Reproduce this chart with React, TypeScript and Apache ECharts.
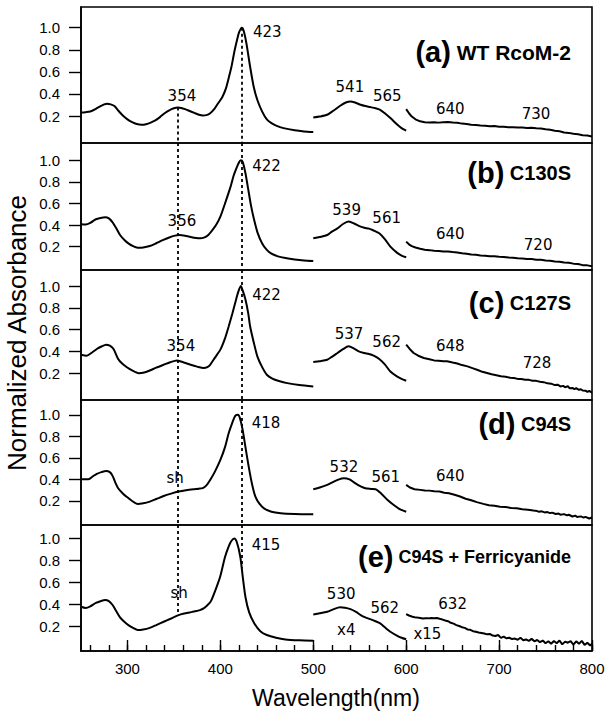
import { useEffect, useRef } from "react";
import * as echarts from "echarts";

// ---------- axis values ----------
const X_MIN = 250;
const X_MAX = 800;
const yTickValues = [0.2, 0.4, 0.6, 0.8, 1.0];
const xMajorTicks = [300, 400, 500, 600, 700, 800];
const xMinorTicks = [260, 280, 300, 320, 340, 360, 380, 400, 420, 440, 460, 480, 500, 520, 540, 560, 580, 600, 620, 640, 660, 680, 700, 720, 740, 760, 780, 800];
const refWavelengths = [354, 423];

// ---------- panel texts ----------
const panelTags = ["(a)", "(b)", "(c)", "(d)", "(e)"];
const panelNames = ["WT RcoM-2", "C130S", "C127S", "C94S", "C94S + Ferricyanide"];

// ---------- spectra: [wavelength nm, normalized absorbance] ----------
const aSoret = [[250,0.232],[255,0.235],[260,0.241],[265,0.26],[270,0.285],[275,0.305],[278,0.311],[282,0.305],[286,0.29],[290,0.25],[295,0.205],[300,0.17],[305,0.145],[310,0.128],[315,0.121],[320,0.126],[325,0.14],[330,0.16],[335,0.19],[340,0.225],[345,0.252],[350,0.27],[354,0.277],[358,0.273],[362,0.262],[367,0.245],[372,0.228],[377,0.212],[381,0.205],[385,0.208],[389,0.225],[394,0.27],[398,0.32],[402,0.37],[406,0.45],[410,0.58],[412,0.648],[415,0.78],[418,0.89],[420,0.955],[423,1.0],[425,0.975],[428,0.86],[432,0.648],[436,0.46],[440,0.34],[445,0.24],[450,0.17],[455,0.135],[460,0.113],[468,0.09],[480,0.07],[490,0.06],[500,0.055]];
const aQ = [[500,0.187],[507,0.195],[515,0.211],[522,0.25],[529,0.293],[535,0.322],[540,0.332],[545,0.322],[551,0.302],[556,0.29],[561,0.281],[567,0.27],[572,0.256],[577,0.225],[583,0.181],[590,0.125],[595,0.09],[600,0.067]];
const aNIR = [[600,0.262],[603,0.225],[606,0.195],[610,0.17],[615,0.152],[620,0.143],[625,0.141],[630,0.143],[635,0.140],[640,0.144],[645,0.145],[650,0.141],[655,0.139],[660,0.131],[665,0.128],[670,0.121],[675,0.119],[680,0.113],[685,0.112],[690,0.108],[695,0.109],[700,0.103],[705,0.102],[710,0.099],[715,0.099],[720,0.095],[725,0.095],[730,0.092],[735,0.093],[740,0.089],[745,0.087],[750,0.080],[755,0.076],[760,0.067],[765,0.062],[770,0.051],[775,0.047],[780,0.039],[785,0.034],[790,0.026],[795,0.023],[800,0.015]];

const bSoret = [[250,0.407],[255,0.405],[260,0.42],[266,0.454],[271,0.466],[276,0.472],[280,0.462],[284,0.425],[288,0.37],[292,0.308],[297,0.26],[301,0.231],[306,0.205],[311,0.191],[317,0.193],[324,0.206],[331,0.232],[338,0.26],[345,0.285],[350,0.3],[356,0.308],[362,0.302],[368,0.29],[374,0.28],[378,0.277],[383,0.286],[387,0.308],[392,0.36],[396,0.41],[400,0.478],[405,0.6],[411,0.756],[414,0.85],[417,0.92],[420,0.98],[422,1.0],[424,0.985],[427,0.88],[430,0.73],[433,0.58],[436,0.46],[440,0.33],[445,0.23],[450,0.17],[455,0.135],[462,0.11],[470,0.095],[480,0.082],[490,0.073],[500,0.068]];
const bQ = [[500,0.278],[507,0.29],[515,0.308],[520,0.34],[526,0.37],[532,0.41],[538,0.432],[544,0.415],[549,0.392],[555,0.375],[560,0.367],[565,0.35],[571,0.324],[577,0.27],[583,0.2],[590,0.145],[595,0.118],[600,0.102]];
const bNIR = [[600,0.247],[603,0.222],[606,0.205],[610,0.192],[615,0.18],[620,0.172],[625,0.168],[630,0.162],[635,0.161],[640,0.156],[645,0.156],[650,0.150],[655,0.146],[660,0.139],[665,0.135],[670,0.127],[675,0.125],[680,0.119],[685,0.117],[690,0.112],[695,0.111],[700,0.106],[705,0.105],[710,0.099],[715,0.098],[720,0.092],[725,0.091],[730,0.086],[735,0.085],[740,0.080],[745,0.078],[750,0.071],[755,0.070],[760,0.062],[765,0.061],[770,0.053],[775,0.052],[780,0.043],[785,0.040],[790,0.029],[795,0.027],[800,0.018]];

const cSoret = [[250,0.369],[256,0.36],[262,0.39],[267,0.422],[272,0.445],[277,0.462],[281,0.452],[285,0.422],[290,0.33],[294,0.29],[299,0.256],[305,0.225],[312,0.2],[318,0.205],[324,0.224],[331,0.25],[339,0.277],[346,0.3],[353,0.317],[360,0.3],[368,0.277],[375,0.26],[382,0.247],[386,0.255],[389,0.277],[394,0.34],[400,0.416],[405,0.52],[409,0.631],[413,0.75],[416,0.847],[419,0.94],[422,1.0],[424,0.96],[427,0.877],[430,0.75],[432,0.631],[436,0.48],[440,0.35],[445,0.255],[450,0.185],[456,0.15],[463,0.128],[472,0.108],[485,0.09],[500,0.077]];
const cQ = [[500,0.302],[507,0.31],[515,0.323],[520,0.35],[526,0.385],[532,0.42],[538,0.446],[544,0.425],[549,0.4],[555,0.385],[560,0.376],[565,0.36],[571,0.33],[577,0.28],[583,0.215],[590,0.17],[595,0.148],[600,0.13]];
const cNIR = [[600,0.462],[604,0.42],[608,0.385],[613,0.36],[619,0.339],[625,0.328],[630,0.317],[635,0.314],[640,0.309],[644,0.309],[650,0.297],[655,0.289],[660,0.274],[666,0.262],[672,0.244],[677,0.229],[682,0.212],[687,0.201],[692,0.189],[697,0.181],[702,0.171],[707,0.166],[712,0.157],[716,0.155],[720,0.147],[724,0.146],[728,0.139],[732,0.138],[736,0.130],[740,0.129],[744,0.121],[748,0.117],[752,0.106],[756,0.103],[760,0.090],[763,0.094],[766,0.078],[769,0.083],[771,0.070],[774,0.079],[776,0.060],[779,0.064],[781,0.052],[783,0.061],[786,0.047],[788,0.052],[790,0.040],[793,0.039],[795,0.028],[797,0.036],[800,0.020]];

const dSoret = [[250,0.402],[258,0.402],[263,0.43],[267,0.451],[272,0.468],[277,0.479],[281,0.468],[284,0.433],[287,0.37],[290,0.318],[295,0.27],[299,0.24],[305,0.2],[311,0.172],[317,0.178],[324,0.194],[331,0.218],[339,0.246],[347,0.268],[355,0.287],[363,0.3],[371,0.309],[377,0.314],[381,0.32],[385,0.345],[389,0.395],[394,0.47],[400,0.581],[405,0.7],[409,0.83],[413,0.93],[416,0.99],[419,1.0],[421,0.97],[424,0.86],[427,0.7],[430.5,0.519],[434,0.36],[437.7,0.24],[442,0.175],[447,0.132],[455,0.1],[465,0.086],[480,0.079],[500,0.076]];
const dQ = [[500,0.309],[507,0.325],[515,0.349],[520,0.37],[527,0.398],[533,0.411],[539,0.4],[545,0.365],[551,0.335],[556,0.318],[562,0.312],[567,0.309],[573,0.27],[580,0.209],[587,0.16],[593,0.125],[600,0.1]];
const dNIR = [[600,0.349],[604,0.325],[609,0.309],[615,0.303],[620,0.297],[625,0.296],[630,0.290],[636,0.288],[641,0.277],[646,0.271],[652,0.257],[658,0.241],[664,0.221],[670,0.206],[676,0.189],[683,0.173],[689,0.161],[695,0.156],[701,0.147],[707,0.143],[713,0.135],[719,0.133],[725,0.124],[731,0.119],[737,0.111],[741,0.106],[743,0.099],[746,0.104],[749,0.094],[752,0.097],[755,0.087],[757,0.092],[761,0.079],[764,0.083],[766,0.073],[770,0.078],[773,0.066],[775,0.072],[779,0.056],[782,0.064],[784,0.051],[788,0.057],[791,0.046],[793,0.052],[797,0.037],[800,0.046]];

const eSoret = [[250,0.381],[255,0.37],[260,0.385],[266,0.417],[271,0.432],[276,0.442],[280,0.432],[284,0.397],[288,0.34],[292,0.285],[296,0.25],[301,0.215],[306,0.19],[311,0.17],[317,0.175],[324,0.19],[331,0.215],[339,0.245],[347,0.275],[355,0.306],[361,0.32],[367,0.33],[373,0.34],[378,0.351],[382,0.367],[386,0.395],[390,0.435],[396,0.562],[400,0.66],[405,0.833],[409,0.93],[412,0.98],[415,1.0],[418,0.96],[421.5,0.833],[424,0.66],[427,0.47],[431,0.33],[436.6,0.23],[443,0.16],[450,0.125],[460,0.1],[470,0.085],[485,0.077],[500,0.073]];
const eQ = [[500,0.312],[507,0.322],[515,0.336],[522,0.36],[529,0.376],[534,0.373],[540,0.36],[546,0.335],[551,0.306],[556,0.285],[562,0.267],[567,0.25],[572,0.23],[577,0.195],[583,0.155],[590,0.12],[595,0.1],[600,0.086]];
const eNIR = [[600,0.315],[603,0.302],[606,0.293],[609,0.287],[612,0.283],[615,0.28],[618,0.275],[621,0.278],[624,0.276],[627,0.279],[630,0.277],[633,0.28],[636,0.272],[639,0.265],[642,0.257],[645,0.25],[648,0.236],[651,0.228],[654,0.215],[657,0.207],[660,0.196],[663,0.19],[666,0.176],[669,0.172],[672,0.16],[675,0.155],[678,0.148],[681,0.144],[684,0.138],[687,0.131],[690,0.135],[693,0.12],[696,0.116],[699,0.125],[702,0.099],[705,0.11],[708,0.095],[711,0.1],[714,0.088],[717,0.093],[720,0.082],[723,0.1],[726,0.078],[729,0.085],[732,0.072],[735,0.09],[738,0.068],[741,0.08],[744,0.06],[747,0.075],[750,0.05],[753,0.068],[756,0.045],[759,0.07],[762,0.05],[765,0.075],[768,0.04],[771,0.065],[774,0.055],[777,0.07],[780,0.038],[783,0.068],[786,0.045],[789,0.072],[792,0.035],[795,0.055],[798,0.03],[800,0.045]];

// ---------- peak annotations: [text, wavelength, absorbance] ----------
const annotA = [["423", 450.5, 0.964], ["354", 358.6, 0.383], ["541", 539.4, 0.46], ["565", 579.7, 0.377], ["640", 647.4, 0.266], ["730", 739.8, 0.22]];
const annotB = [["422", 449.6, 0.947], ["356", 358.6, 0.438], ["539", 535.9, 0.54], ["561", 579, 0.463], ["640", 647.4, 0.318], ["720", 742, 0.216]];
const annotC = [["422", 449.6, 0.914], ["354", 357.5, 0.452], ["537", 538.4, 0.56], ["562", 579, 0.487], ["648", 647.4, 0.446], ["728", 740.8, 0.293]];
const annotD = [["418", 449.2, 0.928], ["sh", 351.4, 0.411], ["532", 533, 0.519], ["561", 578, 0.42], ["640", 647.4, 0.433]];
const annotE = [["415", 449.2, 0.94], ["sh", 355.7, 0.502], ["530", 530, 0.496], ["562", 577, 0.367], ["x4", 535.5, 0.17], ["632", 650, 0.405], ["x15", 622.8, 0.134]];

const spectra = [
  [aSoret, aQ, aNIR],
  [bSoret, bQ, bNIR],
  [cSoret, cQ, cNIR],
  [dSoret, dQ, dNIR],
  [eSoret, eQ, eNIR],
];
const annotations = [annotA, annotB, annotC, annotD, annotE];

// ---------- layout (pixels) ----------
const PLOT_LEFT = 81;
const PLOT_WIDTH = 511;
const panelLayout = [
  { top: 7, bottom: 143, yMin: -0.0446, yMax: 1.1875, labelY: 52, nameSize: 21 },
  { top: 143, bottom: 270, yMin: -0.016, yMax: 1.16, labelY: 173, nameSize: 20 },
  { top: 270, bottom: 400, yMin: -0.047, yMax: 1.148, labelY: 303, nameSize: 20 },
  { top: 400, bottom: 525, yMin: -0.023, yMax: 1.137, labelY: 424, nameSize: 20 },
  { top: 525, bottom: 651, yMin: -0.02, yMax: 1.123, labelY: 557, nameSize: 18 },
];

const SANS = "Liberation Sans, Arial, Helvetica, sans-serif";
const ANNOT_FONT = "DejaVu Sans, Verdana, sans-serif";

function valueAt(data: number[][], x: number): number {
  for (let i = 0; i < data.length - 1; i++) {
    const [x0, y0] = data[i];
    const [x1, y1] = data[i + 1];
    if (x >= x0 && x <= x1) return y0 + ((y1 - y0) * (x - x0)) / (x1 - x0);
  }
  return data[data.length - 1][1];
}

function buildOption() {
  const last = panelLayout.length - 1;
  const grid = panelLayout.map((p) => ({
    left: PLOT_LEFT,
    width: PLOT_WIDTH,
    top: p.top,
    height: p.bottom - p.top,
    show: true,
    borderColor: "#000",
    borderWidth: 1.6,
    backgroundColor: "transparent",
  }));

  const xAxis: any[] = panelLayout.map((_, i) => ({
    gridIndex: i,
    type: "value",
    position: "bottom",
    min: X_MIN,
    max: X_MAX,
    splitLine: { show: false },
    axisLine: { show: i === last, onZero: false, lineStyle: { color: "#000", width: 1.6 } },
    axisTick: {
      show: i === last,
      inside: true,
      length: 6,
      customValues: xMinorTicks,
      lineStyle: { color: "#000", width: 1.4 },
    },
    axisLabel: { show: false },
  }));
  xAxis.push({
    gridIndex: last,
    type: "value",
    position: "bottom",
    min: X_MIN,
    max: X_MAX,
    splitLine: { show: false },
    axisLine: { show: false, onZero: false },
    axisTick: {
      show: true,
      inside: true,
      length: 11,
      customValues: xMajorTicks,
      lineStyle: { color: "#000", width: 1.4 },
    },
    axisLabel: {
      show: true,
      customValues: xMajorTicks,
      margin: 10,
      color: "#000",
      fontSize: 15,
      fontFamily: SANS,
    },
  });

  const yAxis = panelLayout.map((p, i) => ({
    gridIndex: i,
    type: "value",
    position: "left",
    min: p.yMin,
    max: p.yMax,
    splitLine: { show: false },
    axisLine: { show: true, onZero: false, lineStyle: { color: "#000", width: 1.6 } },
    axisTick: {
      show: true,
      inside: false,
      length: 12,
      customValues: yTickValues,
      lineStyle: { color: "#000", width: 1.4 },
    },
    axisLabel: {
      show: true,
      customValues: yTickValues,
      formatter: (v: number) => v.toFixed(1),
      margin: 21,
      color: "#000",
      fontSize: 15,
      fontFamily: SANS,
    },
  }));

  const series: any[] = [];
  spectra.forEach((segs, i) => {
    const p = panelLayout[i];
    segs.forEach((seg, k) => {
      const s: any = {
        type: "line",
        xAxisIndex: i,
        yAxisIndex: i,
        data: seg,
        showSymbol: false,
        symbol: "none",
        smooth: k === 2 ? false : 0.25,
        lineStyle: { color: "#000", width: 2 },
        silent: true,
        z: 3,
      };
      if (k === 0) {
        const lines = refWavelengths.map((w) => {
          let from = p.yMax;
          let to = p.yMin;
          if (i === 0) from = valueAt(seg, w);
          if (i === last) to = valueAt(seg, w);
          return [{ coord: [w, from] }, { coord: [w, to] }];
        });
        s.markLine = {
          silent: true,
          symbol: ["none", "none"],
          label: { show: false },
          lineStyle: { color: "#000", width: 1.8, type: [3, 3], opacity: 1 },
          data: lines,
        };
      }
      series.push(s);
    });
    series.push({
      type: "scatter",
      xAxisIndex: i,
      yAxisIndex: i,
      symbolSize: 0,
      silent: true,
      z: 5,
      itemStyle: { opacity: 1, color: "#000" },
      data: annotations[i].map(([t, x, y]) => ({ name: t, value: [x, y] })),
      label: {
        show: true,
        position: "inside",
        formatter: "{b}",
        color: "#000",
        opacity: 1,
        fontSize: 15,
        fontFamily: ANNOT_FONT,
      },
    });
  });

  const graphic: any[] = panelLayout.map((p, i) => ({
    type: "text",
    x: 571,
    y: p.labelY,
    z: 10,
    style: {
      text: `{t|${panelTags[i]}}{n| ${panelNames[i]}}`,
      align: "right",
      verticalAlign: "middle",
      rich: {
        t: { fontSize: 29, fontWeight: "bold", fontFamily: SANS, fill: "#000" },
        n: { fontSize: p.nameSize, fontWeight: "bold", fontFamily: SANS, fill: "#000" },
      },
    },
  }));
  graphic.push({
    type: "text",
    x: 17,
    y: 333,
    rotation: Math.PI / 2,
    style: {
      text: "Normalized Absorbance",
      align: "center",
      verticalAlign: "middle",
      fontSize: 26,
      fontFamily: SANS,
      fill: "#000",
    },
  });
  graphic.push({
    type: "text",
    x: 336,
    y: 698,
    style: {
      text: "Wavelength(nm)",
      align: "center",
      verticalAlign: "middle",
      fontSize: 23,
      fontFamily: SANS,
      fill: "#000",
    },
  });

  return {
    animation: false,
    backgroundColor: "#fff",
    grid,
    xAxis,
    yAxis,
    series,
    graphic,
  };
}

export default function App() {
  const ref = useRef<HTMLDivElement>(null);
  useEffect(() => {
    if (!ref.current) return;
    const chart = echarts.init(ref.current, undefined, { renderer: "svg" });
    chart.setOption(buildOption() as any);
    return () => chart.dispose();
  }, []);
  return (
    <div
      ref={ref}
      style={{ position: "absolute", left: 0, top: 0, width: 612, height: 719, background: "#fff" }}
    />
  );
}
